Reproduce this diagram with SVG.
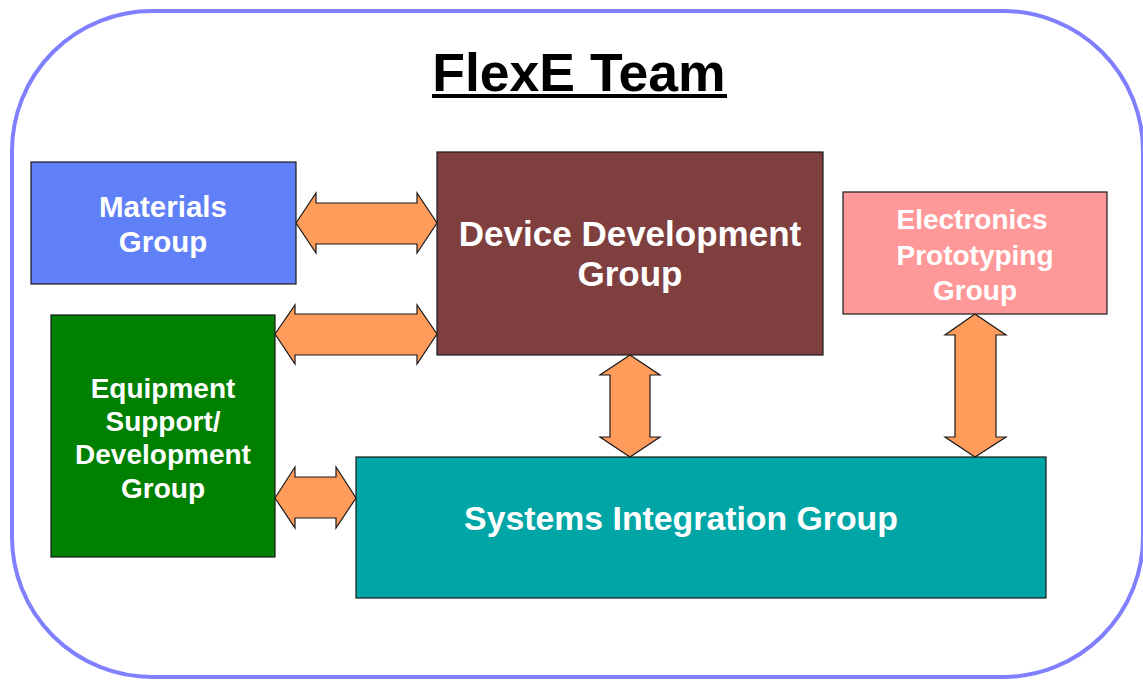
<svg xmlns="http://www.w3.org/2000/svg" width="1143" height="680" viewBox="0 0 1143 680">
  <style>
    .box { stroke: #1a1a1a; stroke-width: 1.2; }
    .lbl { font-family: "Liberation Sans", Arial, sans-serif; font-weight: bold; fill: #ffffff; text-anchor: middle; }
    .s28 { font-size: 28px; }
    .arrow { fill: #ff9b5b; stroke: #1a1a1a; stroke-width: 1.2; stroke-linejoin: miter; }
  </style>
  <rect x="0" y="0" width="1143" height="680" fill="#ffffff"/>
  <!-- team frame -->
  <rect x="12" y="11" width="1131" height="666" rx="140" ry="140" fill="#ffffff" stroke="#8080ff" stroke-width="4"/>
  <!-- title -->
  <g id="title">
    <text x="579" y="91" font-family="Liberation Sans, Arial, sans-serif" font-weight="bold" font-size="53.5" text-anchor="middle" fill="#000000">FlexE Team</text>
    <rect x="432" y="94" width="295" height="4" fill="#000000"/>
  </g>
  <!-- connectors: double-headed block arrows -->
  <g id="connectors">
    <polygon class="arrow" points="296,223 316,193 316,203 417,203 417,193 437,223 417,253 417,244 316,244 316,253"/>
    <polygon class="arrow" points="275,334 295,305 295,314 417,314 417,305 437,334 417,364 417,355 295,355 295,364"/>
    <polygon class="arrow" points="275,498 295,467 295,477 336,477 336,467 356,498 336,528 336,518 295,518 295,528"/>
    <polygon class="arrow" points="630,355 660,375 650,375 650,437 660,437 630,457 600,437 610,437 610,375 600,375"/>
    <polygon class="arrow" points="975,314 1006,335 996,335 996,437 1006,437 975,457 945,437 955,437 955,335 945,335"/>
  </g>
  <g id="materials">
    <rect class="box" x="31" y="162" width="265" height="122" fill="#6080f8"/>
    <text class="lbl" font-size="29.5" x="163" y="217">Materials</text>
    <text class="lbl" font-size="29.5" x="163" y="252">Group</text>
  </g>
  <g id="device">
    <rect class="box" x="437" y="152" width="386" height="203" fill="#7f3f3f"/>
    <text class="lbl" font-size="35" x="630" y="246">Device Development</text>
    <text class="lbl" font-size="35" x="630" y="286">Group</text>
  </g>
  <g id="electronics">
    <rect class="box" x="843" y="192" width="264" height="122" fill="#ff9999"/>
    <text class="lbl s28" x="972" y="229">Electronics</text>
    <text class="lbl s28" x="975" y="265">Prototyping</text>
    <text class="lbl s28" x="975" y="300">Group</text>
  </g>
  <g id="equipment">
    <rect class="box" x="51" y="315" width="224" height="242" fill="#008000"/>
    <text class="lbl s28" x="163" y="398">Equipment</text>
    <text class="lbl s28" x="163" y="431">Support/</text>
    <text class="lbl s28" x="163" y="464">Development</text>
    <text class="lbl s28" x="163" y="498">Group</text>
  </g>
  <g id="systems">
    <rect class="box" x="356" y="457" width="690" height="141" fill="#00a6a6"/>
    <text class="lbl" font-size="33.8" x="681" y="530">Systems Integration Group</text>
  </g>
</svg>
